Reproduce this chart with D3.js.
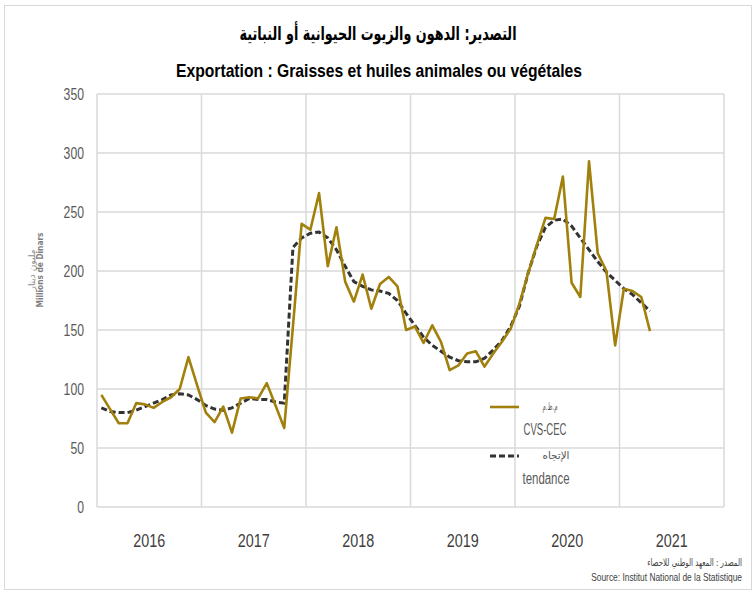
<!DOCTYPE html>
<html>
<head>
<meta charset="utf-8">
<script src="https://cdn.jsdelivr.net/npm/d3@7"></script>
<style>
  body { margin: 0; background: #fff; }
  svg { display: block; }
</style>
</head>
<body>
<div id="chart"></div>
<script>
// years shown on the x axis (12 monthly points per year)
const years = ["2016", "2017", "2018", "2019", "2020", "2021"];
const yTicks = [0, 50, 100, 150, 200, 250, 300, 350];

// CVS-CEC series, monthly from Jan 2016 to Apr 2021 (millions of dinars)
const cvs = [
  95, 83, 71, 71, 88, 87, 84, 89, 93, 100, 127, 103,
  80, 72, 85, 63, 92, 93, 92, 105, 86, 67, 153, 240,
  235, 266, 204, 237, 191, 174, 197, 168, 189, 195, 187, 150,
  153, 139, 154, 140, 116, 120, 130, 132, 119, 130, 140, 151,
  172, 198, 222, 245, 244, 280, 190, 178, 293, 215, 200, 137,
  185, 183, 178, 149
];

// trend series
const tendance = [
  84, 81, 80, 80, 82, 85, 88, 91, 95, 96, 95, 91,
  86, 83, 82, 84, 88, 92, 91, 91, 89, 88, 220, 228,
  232, 233, 228, 218, 204, 191, 187, 184, 183, 181, 175, 164,
  154, 144, 137, 132, 127, 124, 123, 123, 126, 133, 141, 153,
  170, 198, 221, 237, 243, 244, 238, 228, 218, 208, 199, 192,
  185, 180, 173, 166
];

const W = 756, H = 593;
const plot = { left: 97, right: 724, top: 94, bottom: 507 };
const sans = "'Liberation Sans', Arial, sans-serif";
const arab = "'DejaVu Sans', sans-serif";
const gold = "#a1800b";

// squeeze text to a given width (the original uses a narrow font)
function fit(sel, w) {
  sel.attr("textLength", w).attr("lengthAdjust", "spacingAndGlyphs");
  return sel;
}

// same idea but with a real transform, right edge pinned at (x, y)
function squeezeRight(t, x, y, w) {
  const len = t.node().getComputedTextLength();
  t.attr("text-anchor", "end")
    .attr("transform", `translate(${x},${y}) scale(${w / len},1)`);
}

const svg = d3.select("#chart").append("svg")
  .attr("width", W).attr("height", H);

// outer frame
svg.append("rect")
  .attr("x", 4.5).attr("y", 5.5)
  .attr("width", 747).attr("height", 584)
  .attr("fill", "#fff")
  .attr("stroke", "#d9d9d9");

const x = d3.scaleLinear().domain([0, years.length * 12]).range([plot.left, plot.right]);
const y = d3.scaleLinear().domain([0, 350]).range([plot.bottom, plot.top]);

// horizontal grid
svg.append("g")
  .selectAll("line")
  .data(yTicks)
  .join("line")
  .attr("x1", plot.left).attr("x2", plot.right)
  .attr("y1", d => y(d)).attr("y2", d => y(d))
  .attr("stroke", "#d9d9d9").attr("stroke-width", 1.5);

// vertical grid at year boundaries
svg.append("g")
  .selectAll("line")
  .data(d3.range(years.length + 1))
  .join("line")
  .attr("x1", d => x(d * 12)).attr("x2", d => x(d * 12))
  .attr("y1", plot.top).attr("y2", plot.bottom)
  .attr("stroke", "#d9d9d9").attr("stroke-width", 1.5);

// y tick labels
svg.append("g")
  .selectAll("text")
  .data(yTicks)
  .join("text")
  .attr("x", 84)
  .attr("y", d => y(d) + 6)
  .attr("text-anchor", "end")
  .attr("font-family", sans)
  .attr("font-size", 17)
  .attr("fill", "#595959")
  .text(d => d)
  .call(fit, d => String(d).length * 6.8);

// year labels
svg.append("g")
  .selectAll("text")
  .data(years)
  .join("text")
  .attr("x", (d, i) => x(i * 12 + 6))
  .attr("y", 547)
  .attr("text-anchor", "middle")
  .attr("font-family", sans)
  .attr("font-size", 18)
  .attr("fill", "#404040")
  .text(d => d)
  .call(fit, 32);

const px = (d, i) => x(i + 0.5);

// trend line
svg.append("path")
  .datum(tendance)
  .attr("fill", "none")
  .attr("stroke", "#333")
  .attr("stroke-width", 3)
  .attr("stroke-dasharray", "6,3")
  .attr("d", d3.line().x(px).y(d => y(d)));

// CVS-CEC line
svg.append("path")
  .datum(cvs)
  .attr("fill", "none")
  .attr("stroke", gold)
  .attr("stroke-width", 2.6)
  .attr("stroke-linejoin", "round")
  .attr("d", d3.line().x(px).y(d => y(d)));

// titles
svg.append("text")
  .attr("x", 378).attr("y", 40)
  .attr("text-anchor", "middle")
  .attr("font-family", arab)
  .attr("font-weight", "bold")
  .attr("font-size", 19)
  .attr("fill", "#000")
  .text("التصدير: الدهون والزيوت الحيوانية أو النباتية")
  .call(fit, 277);

svg.append("text")
  .attr("x", 379).attr("y", 77)
  .attr("text-anchor", "middle")
  .attr("font-family", sans)
  .attr("font-weight", "bold")
  .attr("font-size", 19)
  .attr("fill", "#000")
  .text("Exportation : Graisses et huiles animales ou végétales")
  .call(fit, 406);

// y axis title (two lines, rotated)
const yt = svg.append("g").attr("transform", "translate(35,270) rotate(-90)");
yt.append("text")
  .attr("x", 0).attr("y", 0)
  .attr("text-anchor", "middle")
  .attr("font-family", arab)
  .attr("font-size", 9)
  .attr("fill", "#8c8c8c")
  .text("مليون دينار");
yt.append("text")
  .attr("x", 0).attr("y", 8)
  .attr("text-anchor", "middle")
  .attr("font-family", arab)
  .attr("font-weight", "bold")
  .attr("font-size", 9)
  .attr("fill", "#7f7f7f")
  .text("Millions de Dinars")
  .call(fit, 75);

// legend
const legend = [
  { ar: "م.ظ.م", fr: "CVS-CEC", y: 407, color: gold, dash: null, w: 2.6, arW: 15, frW: 43, arX: 550, frX: 545 },
  { ar: "الإتجاه", fr: "tendance", y: 456, color: "#333", dash: "6,3", w: 3, arW: 27, frW: 47, arX: 556, frX: 546 }
];
const lg = svg.append("g")
  .selectAll("g")
  .data(legend)
  .join("g");
lg.append("line")
  .attr("x1", 490).attr("x2", 519)
  .attr("y1", d => d.y).attr("y2", d => d.y)
  .attr("stroke", d => d.color)
  .attr("stroke-width", d => d.w)
  .attr("stroke-dasharray", d => d.dash);
lg.append("text")
  .attr("x", d => d.arX).attr("y", d => d.y + 3)
  .attr("text-anchor", "middle")
  .attr("font-family", arab)
  .attr("font-size", 11)
  .attr("fill", "#595959")
  .text(d => d.ar)
  .call(fit, d => d.arW);
lg.append("text")
  .attr("x", d => d.frX).attr("y", d => d.y + 28)
  .attr("text-anchor", "middle")
  .attr("font-family", sans)
  .attr("font-size", 16)
  .attr("fill", "#595959")
  .text(d => d.fr)
  .call(fit, d => d.frW);

// source
svg.append("text")
  .attr("font-family", arab)
  .attr("font-size", 10)
  .attr("fill", "#404040")
  .text("المصدر : المعهد الوطني للاحصاء")
  .call(squeezeRight, 742, 566, 95);
svg.append("text")
  .attr("font-family", sans)
  .attr("font-size", 11)
  .attr("fill", "#404040")
  .text("Source: Institut National de la Statistique")
  .call(squeezeRight, 742, 581, 151);
</script>
</body>
</html>
